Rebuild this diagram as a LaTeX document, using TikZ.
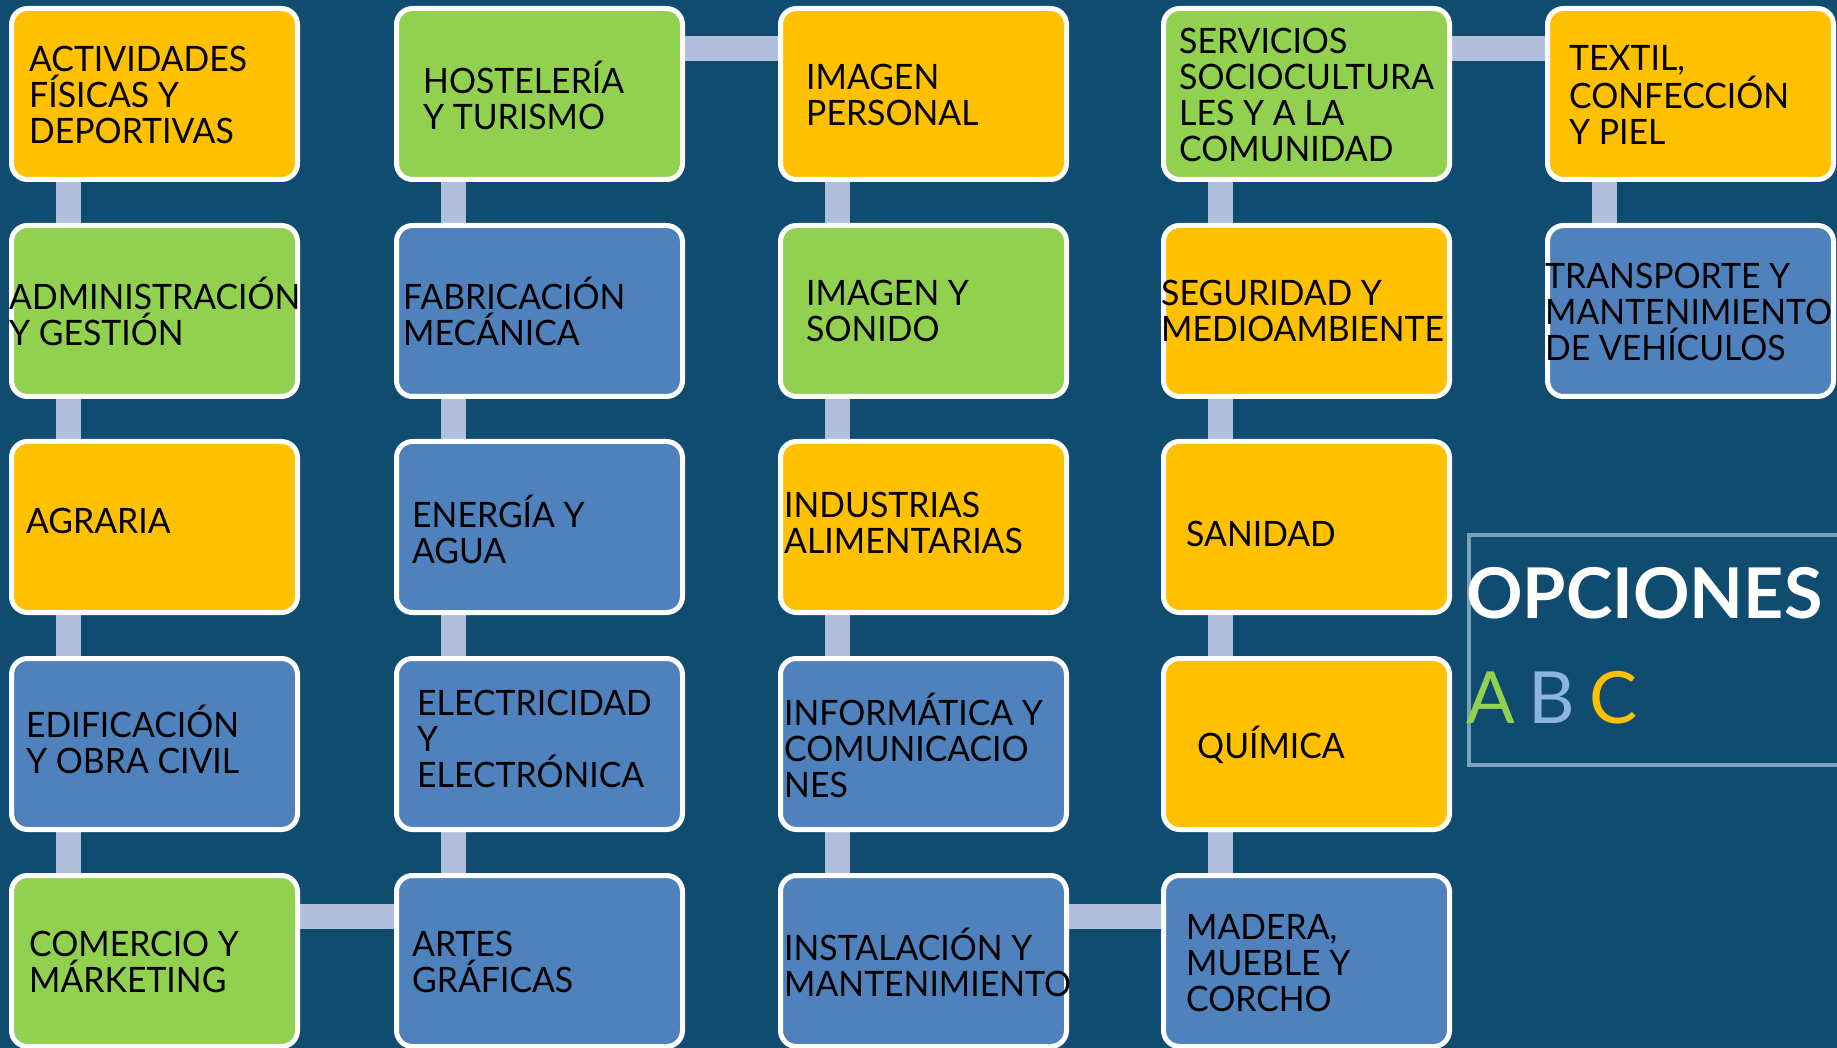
\documentclass[tikz,border=0pt]{standalone}
\usepackage{fontspec}
\newfontfamily\boxfont{Lato}[FakeStretch=0.965]
\newfontfamily\optfont{Lato}
\newfontfamily\optboldfont{Lato}[UprightFont=* Bold]
\definecolor{bgc}{HTML}{0F4C70}
\definecolor{orng}{HTML}{FFC000}
\definecolor{grn}{HTML}{92D050}
\definecolor{blu}{HTML}{4F81BD}
\definecolor{connc}{HTML}{B0C0DC}
\definecolor{optc}{HTML}{7F9FB7}
\definecolor{lbl}{HTML}{8DB3E2}
\pgfdeclarelayer{back}
\pgfdeclarelayer{links}
\pgfsetlayers{back,links,main}
\begin{document}
\begin{tikzpicture}[x=1pt,y=-1pt,
  box/.style={draw=white, line width=5pt, rounded corners=16pt, minimum width=286pt, minimum height=171pt, inner sep=0pt, anchor=north west},
  txt/.style={anchor=west, align=left, inner sep=0pt, text=black, font=\boxfont\fontsize{35}{36}\selectfont},
  conn/.style={draw=connc, line width=25pt}]
\useasboundingbox (0,0) rectangle (1837,1048);
\begin{pgfonlayer}{back}
\fill[bgc] (0,0) rectangle (1837,1048);
\end{pgfonlayer}
% column 1
\node[box, fill=orng] (b11) at (9,6) {};
\node[box, fill=grn]  (b12) at (9,223) {};
\node[box, fill=orng] (b13) at (9,439) {};
\node[box, fill=blu]  (b14) at (9,656) {};
\node[box, fill=grn]  (b15) at (9,873) {};
% column 2
\node[box, fill=grn]  (b21) at (394,6) {};
\node[box, fill=blu]  (b22) at (394,223) {};
\node[box, fill=blu]  (b23) at (394,439) {};
\node[box, fill=blu]  (b24) at (394,656) {};
\node[box, fill=blu]  (b25) at (394,873) {};
% column 3
\node[box, fill=orng] (b31) at (778,6) {};
\node[box, fill=grn]  (b32) at (778,223) {};
\node[box, fill=orng] (b33) at (778,439) {};
\node[box, fill=blu]  (b34) at (778,656) {};
\node[box, fill=blu]  (b35) at (778,873) {};
% column 4
\node[box, fill=grn]  (b41) at (1161,6) {};
\node[box, fill=orng] (b42) at (1161,223) {};
\node[box, fill=orng] (b43) at (1161,439) {};
\node[box, fill=orng] (b44) at (1161,656) {};
\node[box, fill=blu]  (b45) at (1161,873) {};
% column 5
\node[box, fill=orng] (b51) at (1545,6) {};
\node[box, fill=blu]  (b52) at (1545,223) {};
% connectors
\begin{pgfonlayer}{links}
\foreach \c in {1,2,3,4}{
  \foreach \a/\b in {1/2,2/3,3/4,4/5}{
    \draw[conn] ([xshift=59pt]b\c\a.south west) -- ([xshift=59pt]b\c\b.north west);
  }
}
\draw[conn] ([xshift=59pt]b51.south west) -- ([xshift=59pt]b52.north west);
\draw[conn] ([yshift=-43pt]b15.north east) -- ([yshift=-43pt]b25.north west);
\draw[conn] ([yshift=-43pt]b21.north east) -- ([yshift=-43pt]b31.north west);
\draw[conn] ([yshift=-43pt]b35.north east) -- ([yshift=-43pt]b45.north west);
\draw[conn] ([yshift=-43pt]b41.north east) -- ([yshift=-43pt]b51.north west);
\end{pgfonlayer}
% texts
\node[txt] (t11) at (29,95) {ACTIVIDADES\\FÍSICAS Y\\DEPORTIVAS};
\node[txt] (t12) at (9,311) {ADMINISTRACIÓN\\Y GESTIÓN};
\node[txt] (t13) at (26,521) {AGRARIA};
\node[txt] (t14) at (26,739) {EDIFICACIÓN\\Y OBRA CIVIL};
\node[txt] (t15) at (29,962) {COMERCIO Y\\MÁRKETING};
\node[txt] (t21) at (423,95) {HOSTELERÍA\\Y TURISMO};
\node[txt] (t22) at (403,311) {FABRICACIÓN\\MECÁNICA};
\node[txt] (t23) at (412,529) {ENERGÍA Y\\AGUA};
\node[txt] (t24) at (417,739) {ELECTRICIDAD\\Y\\ELECTRÓNICA};
\node[txt] (t25) at (412,962) {ARTES\\GRÁFICAS};
\node[txt] (t31) at (806,95) {IMAGEN\\PERSONAL};
\node[txt] (t32) at (806,311) {IMAGEN Y\\SONIDO};
\node[txt] (t33) at (784,523) {INDUSTRIAS\\ALIMENTARIAS};
\node[txt] (t34) at (784,745) {INFORMÁTICA Y\\COMUNICACIO\\NES};
\node[txt] (t35) at (784,962) {INSTALACIÓN Y\\MANTENIMIENTO};
\node[txt] (t41) at (1179,95) {SERVICIOS\\SOCIOCULTURA\\LES Y A LA\\COMUNIDAD};
\node[txt] (t42) at (1161,311) {SEGURIDAD Y\\MEDIOAMBIENTE};
\node[txt] (t43) at (1186,534) {SANIDAD};
\node[txt] (t44) at (1197,745) {QUÍMICA};
\node[txt] (t45) at (1186,963) {MADERA,\\MUEBLE Y\\CORCHO};
\node[txt] (t51) at (1569,95) {TEXTIL,\\CONFECCIÓN\\Y PIEL};
\node[txt] (t52) at (1545,312) {TRANSPORTE Y\\MANTENIMIENTO\\DE VEHÍCULOS};
% options box
\node[draw=optc, line width=4pt, anchor=north west, minimum width=420pt, minimum height=230pt, inner sep=0pt] (opt) at (1467,533) {};
\node[anchor=base west, inner sep=0pt, text=white, font=\optboldfont\fontsize{70}{80}\selectfont] (opttitle) at (1466,618) {OPCIONES};
\node[anchor=base west, inner sep=0pt, text=grn, font=\optfont\fontsize{72}{80}\selectfont] (oa) at (1466,723) {A};
\node[anchor=base west, inner sep=0pt, text=lbl, font=\optfont\fontsize{72}{80}\selectfont] (ob) at (1528,723) {B};
\node[anchor=base west, inner sep=0pt, text=orng, font=\optfont\fontsize{72}{80}\selectfont] (oc) at (1589,723) {C};
\end{tikzpicture}
\end{document}
